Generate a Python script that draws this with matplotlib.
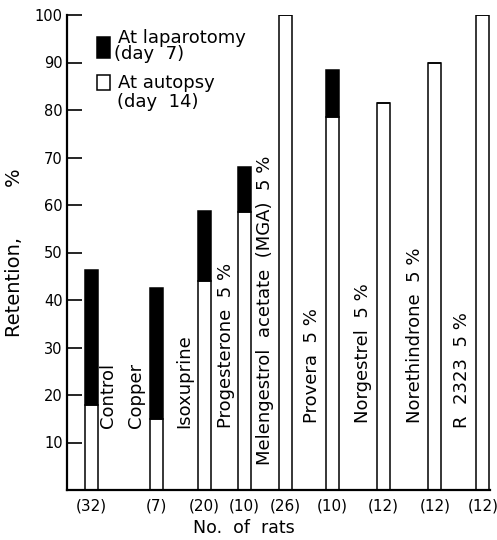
import numpy as np
import matplotlib
matplotlib.use("Agg")
import matplotlib.pyplot as plt
from matplotlib.patches import Rectangle

# treatments, number of rats and retention (%)
treatments = ["Control", "Copper", "Isoxuprine", "Progesterone  5 %",
              "Melengestrol  acetate  (MGA)  5 %", "Provera  5 %",
              "Norgestrel  5 %", "Norethindrone  5 %", "R  2323  5 %"]
n_rats = ["(32)", "(7)", "(20)", "(10)", "(26)", "(10)", "(12)", "(12)", "(12)"]
laparotomy = [46.3, 42.6, 58.7, 68.0, 100, 88.4, 81.5, 90.0, 100]   # day 7
autopsy = [18.0, 15.0, 44.0, 58.5, 100, 78.5, 81.5, 90.0, 100]       # day 14

# layout (bar slots are unevenly spaced in the original)
xpos = [1.88, 6.85, 10.58, 13.65, 16.81, 20.38, 24.31, 28.27, 31.96]
label_dx = [1.24, -1.58, -1.54, -1.46, -1.62, -1.57, -1.54, -1.54, -1.61]
label_y = [13.0, 13.0, 13.0, 13.0, 5.3, 14.1, 14.1, 14.1, 13.0]
width = 1.0

plt.rcParams['font.family'] = ['DejaVu Sans']
fig = plt.figure(figsize=(4.97, 5.40), dpi=100)
ax = fig.add_axes([67 / 497, 50 / 540, 423 / 497, 475 / 540])

lap = np.array(laparotomy)
aut = np.array(autopsy)
ax.bar(xpos, aut, width=width, color='white', edgecolor='black', linewidth=1.1, zorder=2)
ax.bar(xpos, lap - aut, bottom=aut, width=width, color='black',
       edgecolor='black', linewidth=1.1, zorder=2)

for x, dx, y, name in zip(xpos, label_dx, label_y, treatments):
    ax.text(x + dx, y, name, rotation=90, ha='center', va='bottom', fontsize=13)

ax.set_xlim(0, 32.5)
ax.set_ylim(0, 100)
ax.set_yticks(np.arange(10, 101, 10))
ax.tick_params(axis='y', direction='in', length=11, width=1.2, labelsize=10.5, pad=3)
ax.set_xticks(xpos)
ax.set_xticklabels(n_rats, fontsize=11)
ax.tick_params(axis='x', length=0, pad=6)

for s in ['top', 'right']:
    ax.spines[s].set_visible(False)
ax.spines['left'].set_linewidth(1.6)
ax.spines['bottom'].set_linewidth(1.6)

ax.set_ylabel("Retention,        %", fontsize=14, labelpad=8)
fig.text(244 / 497, 1 - 528 / 540, "No.  of  rats", ha='center', va='center', fontsize=12.5)

# hand-drawn style legend
ax.add_patch(Rectangle((0.071, 0.909), 0.031, 0.045, transform=ax.transAxes,
                       facecolor='black', edgecolor='black', lw=1.1, clip_on=False))
ax.add_patch(Rectangle((0.071, 0.842), 0.031, 0.032, transform=ax.transAxes,
                       facecolor='white', edgecolor='black', lw=1.1, clip_on=False))
legend_lines = [(0.121, 0.941, "At laparotomy"), (0.111, 0.907, "(day  7)"),
                (0.121, 0.846, "At autopsy"), (0.118, 0.806, "(day  14)")]
for lx, ly, txt in legend_lines:
    ax.text(lx, ly, txt, transform=ax.transAxes, ha='left', va='baseline', fontsize=13)

fig.savefig("out.png", dpi=100)
